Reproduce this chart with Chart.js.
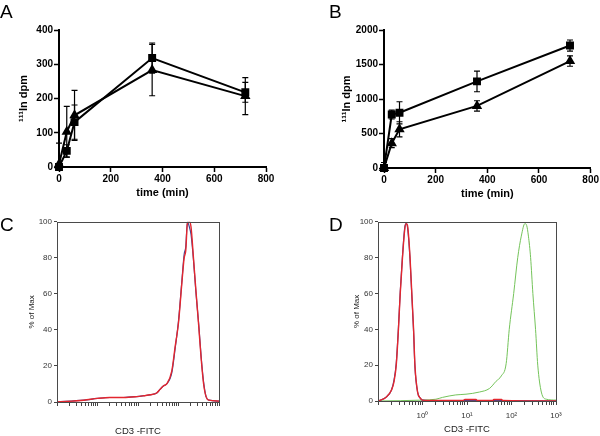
<!DOCTYPE html>
<html>
<head>
<meta charset="utf-8">
<script src="https://cdn.jsdelivr.net/npm/chart.js@4.4.1/dist/chart.umd.min.js"></script>
<style>
    html, body { margin: 0; padding: 0; width: 600px; height: 436px; overflow: hidden; background: #fff; }
    canvas { position: absolute; }
    #chartA { left: 0; top: 0; }
    #chartB { left: 300px; top: 0; }
    #chartC { left: 0; top: 215px; }
    #chartD { left: 300px; top: 215px; }
</style>
</head>
<body>
<canvas id="chartA" width="300" height="215"></canvas>
<canvas id="chartB" width="300" height="215"></canvas>
<canvas id="chartC" width="300" height="230"></canvas>
<canvas id="chartD" width="300" height="230"></canvas>
<script>
// Uptake time course (panels A and B)
const timeMin = [0, 30, 60, 360, 720];

const aSquare = [0, 47, 131, 318, 218];
const aSquareErr = [5, 18, 50, 44, 29];
const aTriangle = [8, 103, 151, 283, 207];
const aTriangleErr = [62, 74, 73, 75, 54];

const bSquare = [0, 775, 800, 1255, 1775];
const bSquareErr = [80, 65, 160, 150, 80];
const bTriangle = [0, 360, 560, 900, 1550];
const bTriangleErr = [40, 65, 110, 75, 75];

// Flow histograms (panels C and D), x = CD3-FITC intensity, y = % of max
const cFluor = [0.1, 0.46, 1.0, 2.0, 4.4, 9.3, 14, 20, 29, 35, 43, 51, 68, 83, 100, 120, 138, 151, 166, 186, 204, 234, 269, 316, 363, 417, 479, 562, 1000];
const cRed = [0, 1, 2, 2.5, 2.5, 3, 3.5, 4, 5, 7, 9, 10, 17, 31, 44, 65, 80, 84, 99, 100, 97, 80, 62, 42, 24, 10, 3, 1, 0.5];
const cBlue = [0, 1, 2, 2.5, 2.5, 3, 3.5, 4, 5, 7, 9, 10, 16, 30, 45, 66, 82, 86, 100, 97, 93, 79, 61, 43, 25, 11, 3, 1, 0.5];

const dFluor = [0.1, 0.115, 0.15, 0.2, 0.23, 0.257, 0.288, 0.316, 0.355, 0.40, 0.43, 0.46, 0.525, 0.575, 0.63, 0.676, 0.776, 0.9, 1.0, 2, 8, 9, 16, 17, 38, 40, 60, 63, 1000];
const dRed = [0, 0.5, 2, 6, 11, 20, 40, 60, 80, 96, 99, 98, 80, 60, 40, 20, 5, 1.5, 0.5, 0.3, 0.3, 0.8, 0.8, 0.3, 0.3, 0.8, 0.8, 0.3, 0];
const dBlue = [0, 0.5, 2, 6, 12, 21, 41, 61, 81, 97, 99, 97, 79, 59, 39, 19, 5, 1.5, 0.5, 0.2, 0.2, 0.2, 0.2, 0.2, 0.2, 0.2, 0.2, 0.2, 0];
const dGreenFluor = [0.1, 1, 2, 2.8, 5.6, 9.5, 19, 32, 45, 59, 76, 89, 112, 138, 166, 200, 219, 240, 269, 302, 347, 389, 468, 603, 1000];
const dGreen = [0, 0.5, 1, 2, 3.4, 3.8, 5, 7, 11, 14, 21, 40, 60, 80, 92, 99, 98, 92, 80, 60, 40, 20, 5, 1, 0.5];

const logDecades = [0.1, 1, 10, 100, 1000];
const logDecadeLabels = ['', '10\u2070', '10\u00B9', '10\u00B2', '10\u00B3'];

const SANS = "'Liberation Sans', Arial, sans-serif";

/**
 * Zip x and y arrays into {x, y} points
 */
function toPoints(xs, ys) {
    return xs.map((x, i) => ({ x: x, y: ys[i] }));
}

// Vertical error bars (SD) drawn from dataset.errors
const errorBarPlugin = {
    id: 'errorBars',
    beforeDatasetsDraw(chart) {
        const ctx = chart.ctx;
        const xs = chart.scales.x;
        const ys = chart.scales.y;
        ctx.save();
        ctx.strokeStyle = '#000';
        ctx.lineWidth = 1.2;
        chart.data.datasets.forEach(ds => {
            if (!ds.errors) return;
            ds.data.forEach((pt, i) => {
                const err = ds.errors[i];
                const px = xs.getPixelForValue(pt.x);
                const top = ys.getPixelForValue(pt.y + err);
                const low = pt.y - err;
                const bot = ys.getPixelForValue(Math.max(low, 0));
                ctx.beginPath();
                ctx.moveTo(px, top);
                ctx.lineTo(px, bot);
                ctx.moveTo(px - 3, top);
                ctx.lineTo(px + 3, top);
                if (low >= 0) {
                    ctx.moveTo(px - 3, bot);
                    ctx.lineTo(px + 3, bot);
                }
                ctx.stroke();
            });
        });
        ctx.restore();
    }
};

// Panel letter and optional plot frame
const panelPlugin = {
    id: 'panel',
    afterDraw(chart, args, opts) {
        const ctx = chart.ctx;
        ctx.save();
        if (opts.frame) {
            const a = chart.chartArea;
            ctx.strokeStyle = '#4a4a4a';
            ctx.lineWidth = 1;
            ctx.strokeRect(Math.round(a.left) + 0.5, Math.round(a.top) + 0.5,
                Math.round(a.right - a.left), Math.round(a.bottom - a.top));
        }
        ctx.fillStyle = '#000';
        ctx.font = "19px " + SANS;
        ctx.textBaseline = 'alphabetic';
        ctx.fillText(opts.letter, opts.lx, opts.ly);
        ctx.restore();
    }
};

/**
 * Build a Prism-style time course chart (panels A and B)
 */
function timeCourseChart(id, letter, lx, sq, sqErr, tri, triErr, yMax, yStep, geo) {
    const bold = { family: SANS, size: 10, weight: 'bold' };
    return new Chart(document.getElementById(id), {
        type: 'line',
        data: {
            datasets: [{
                data: toPoints(timeMin, sq),
                errors: sqErr,
                borderColor: '#000',
                backgroundColor: '#000',
                borderWidth: 2,
                pointStyle: 'rect',
                pointRadius: 4.2,
                clip: false
            }, {
                data: toPoints(timeMin, tri),
                errors: triErr,
                borderColor: '#000',
                backgroundColor: '#000',
                borderWidth: 2,
                pointStyle: 'triangle',
                pointRadius: 4,
                clip: false
            }]
        },
        options: {
            responsive: false,
            animation: false,
            layout: { padding: { top: 30, right: geo.right, bottom: 0, left: 0 } },
            scales: {
                x: {
                    type: 'linear',
                    min: 0,
                    max: 800,
                    ticks: { stepSize: 200, color: '#000', font: bold, padding: 1, callback: v => String(v) },
                    grid: { drawOnChartArea: false, tickLength: 5, tickColor: '#000', tickWidth: 1.5 },
                    border: { color: '#000', width: 2 },
                    title: {
                        display: true, text: 'time (min)', color: '#000',
                        font: { family: SANS, size: 11, weight: 'bold' },
                        padding: { top: 0, bottom: geo.xTitlePad }
                    },
                    afterFit(s) { s.height = geo.xHeight; }
                },
                y: {
                    min: 0,
                    max: yMax,
                    ticks: { stepSize: yStep, color: '#000', font: bold, padding: 1, callback: v => String(v) },
                    grid: { drawOnChartArea: false, tickLength: 5, tickColor: '#000', tickWidth: 1.5 },
                    border: { color: '#000', width: 2 },
                    title: {
                        display: true, text: '\u00B9\u00B9\u00B9In dpm', color: '#000',
                        font: { family: SANS, size: 11, weight: 'bold' },
                        padding: { top: geo.yTitlePad, bottom: 0 }
                    },
                    afterFit(s) { s.width = geo.yWidth; }
                }
            },
            plugins: {
                legend: { display: false },
                tooltip: { enabled: false },
                panel: { letter: letter, lx: lx, ly: 18, frame: false }
            }
        },
        plugins: [errorBarPlugin, panelPlugin]
    });
}

/**
 * Build a flow cytometry overlay histogram (panels C and D)
 */
function histogramChart(id, letter, lx, datasets, showLabels, geo) {
    const small = { family: SANS, size: 8 };
    return new Chart(document.getElementById(id), {
        type: 'line',
        data: { datasets: datasets },
        options: {
            responsive: false,
            animation: false,
            elements: { point: { radius: 0 }, line: { cubicInterpolationMode: 'monotone' } },
            layout: { padding: { top: 3, right: geo.right, bottom: 0, left: 0 } },
            scales: {
                x: {
                    type: 'logarithmic',
                    min: 0.1,
                    max: 1000,
                    afterBuildTicks(s) {
                        const vals = [];
                        logDecades.forEach((d, i) => {
                            if (i === logDecades.length - 1) { vals.push(d); return; }
                            for (let m = 1; m < 10; m++) vals.push(+(d * m).toPrecision(3));
                        });
                        s.ticks = vals.map(v => ({ value: v }));
                    },
                    ticks: {
                        autoSkip: false, maxRotation: 0, color: '#333', font: small, padding: 6,
                        callback(v) {
                            if (!showLabels) return '';
                            const i = logDecades.indexOf(v);
                            return i >= 0 ? logDecadeLabels[i] : '';
                        }
                    },
                    grid: { drawOnChartArea: false, tickLength: 4, tickColor: '#444', tickWidth: 1 },
                    border: { display: false },
                    title: {
                        display: true, text: 'CD3 -FITC', color: '#222',
                        font: { family: SANS, size: 9.5 },
                        padding: { top: 0, bottom: geo.xTitlePad }
                    },
                    afterFit(s) { s.height = geo.xHeight; }
                },
                y: {
                    min: 0,
                    max: 100,
                    ticks: { stepSize: 20, color: '#333', font: small, padding: 2 },
                    grid: { drawOnChartArea: false, tickLength: 3, tickColor: '#444', tickWidth: 1 },
                    border: { display: false },
                    title: {
                        display: true, text: '% of Max', color: '#222',
                        font: { family: SANS, size: 8 },
                        padding: { top: geo.yTitlePad, bottom: 0 }
                    },
                    afterFit(s) { s.width = geo.yWidth; }
                }
            },
            plugins: {
                legend: { display: false },
                tooltip: { enabled: false },
                panel: { letter: letter, lx: lx, ly: 16, frame: true }
            }
        },
        plugins: [panelPlugin]
    });
}

timeCourseChart('chartA', 'A', 0, aSquare, aSquareErr, aTriangle, aTriangleErr, 400, 100,
    { right: 34, yWidth: 59, xHeight: 48, yTitlePad: 17, xTitlePad: 15 });
timeCourseChart('chartB', 'B', 29, bSquare, bSquareErr, bTriangle, bTriangleErr, 2000, 500,
    { right: 9, yWidth: 84, xHeight: 47, yTitlePad: 40, xTitlePad: 14 });

histogramChart('chartC', 'C', 0, [
    { data: toPoints(cFluor, cRed), borderColor: '#e3262e', borderWidth: 1.4 },
    { data: toPoints(cFluor, cBlue), borderColor: '#3d4796', borderWidth: 1.2 }
], false, { right: 81, yWidth: 57, xHeight: 43, yTitlePad: 27, xTitlePad: 8 });

histogramChart('chartD', 'D', 29, [
    { data: toPoints(dFluor, dRed), borderColor: '#e3262e', borderWidth: 1.4 },
    { data: toPoints(dFluor, dBlue), borderColor: '#3d4796', borderWidth: 1.2 },
    { data: toPoints(dGreenFluor, dGreen), borderColor: '#74c35a', borderWidth: 1 }
], true, { right: 44, yWidth: 78, xHeight: 44, yTitlePad: 52, xTitlePad: 9.6 });
</script>
</body>
</html>
